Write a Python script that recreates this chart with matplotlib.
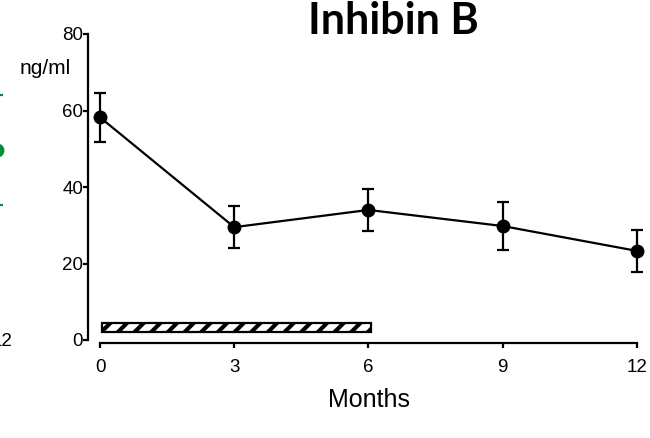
import matplotlib
matplotlib.use('Agg')
import matplotlib.pyplot as plt
from matplotlib.transforms import ScaledTranslation

plt.rcParams['font.family'] = ['Liberation Sans', 'DejaVu Sans']
plt.rcParams['hatch.linewidth'] = 3.0

# inhibin B, mean +/- SEM
months = [0, 3, 6, 9, 12]
inhibin = [58.2, 29.5, 34.0, 29.8, 23.3]
inhibin_err = [6.5, 5.5, 5.5, 6.4, 5.5]

# treatment period bar
treat_start = 0.05
treat_end = 6.05

# edge of the neighbouring panel
prev_month = [12]
prev_value = [49.7]
prev_err = [14.4]

fig = plt.figure(figsize=(6.5, 4.38), dpi=100)

ax = fig.add_axes([88 / 650, 98 / 438, 551 / 650, 306 / 438])
ax.errorbar(months, inhibin, yerr=inhibin_err, color='black', lw=1.6,
            marker='o', ms=9, capsize=4.5, capthick=1.6, elinewidth=1.6,
            clip_on=False, zorder=3)
ax.barh(3.3, treat_end - treat_start, left=treat_start, height=2.2,
        facecolor='white', edgecolor='black', hatch='//', lw=1.6, zorder=2)

ax.set_xlim(-0.27, 12.05)
ax.set_ylim(0, 80)
ax.set_xticks([0, 3, 6, 9, 12])
ax.set_yticks([0, 20, 40, 60, 80])
for s in ['top', 'right']:
    ax.spines[s].set_visible(False)
ax.spines['left'].set_bounds(0, 80)
ax.spines['bottom'].set_bounds(0, 12)
ax.spines['bottom'].set_position(('outward', 2))
ax.spines['left'].set_linewidth(1.6)
ax.spines['bottom'].set_linewidth(1.6)
ax.tick_params(axis='both', width=1.6, length=3.5, labelsize=13.5)
ax.tick_params(axis='y', pad=0)
ax.tick_params(axis='x', pad=8)
ax.set_xlabel('Months', fontsize=18)
ax.xaxis.set_label_coords(0.51, -0.157)

fig.text(393 / 650, 1 - 21 / 438, 'Inhibin B', fontsize=31, fontweight='bold',
         family=['Lato', 'DejaVu Sans'], ha='center', va='center')
fig.text(45 / 650, 1 - 68 / 438, 'ng/ml', fontsize=15, ha='center', va='center')

# sliver of the neighbouring panel at the left edge
ax0 = fig.add_axes([-0.05, 98 / 438, 0.062, 306 / 438])
ax0.errorbar(prev_month, prev_value, yerr=prev_err, color='#078a3c', lw=1.6,
             marker='o', ms=9, capsize=4.5, capthick=1.6, elinewidth=1.6)
ax0.set_xlim(11.2, 12.3)
ax0.set_ylim(0, 80)
ax0.set_xticks([12])
ax0.set_yticks([])
for s in ax0.spines.values():
    s.set_visible(False)
ax0.tick_params(axis='x', length=0, pad=-5, labelsize=13.5)
ax0.patch.set_visible(False)
for lbl in ax0.get_xticklabels():
    lbl.set_transform(lbl.get_transform() + ScaledTranslation(4 / 72, 0, fig.dpi_scale_trans))

fig.savefig('out.png', dpi=100)
